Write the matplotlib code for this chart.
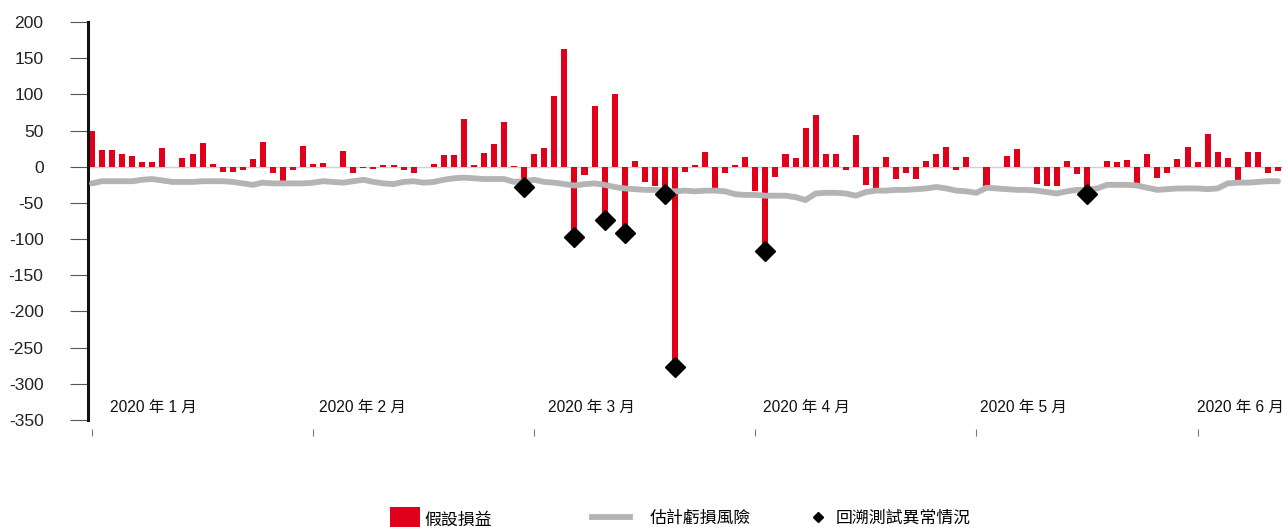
import matplotlib
matplotlib.use("Agg")
import matplotlib.pyplot as plt
from matplotlib.patches import Patch
from matplotlib.lines import Line2D
import numpy as np

plt.rcParams['font.family'] = ['Liberation Sans', 'Noto Sans CJK TC', 'DejaVu Sans']

# daily hypothetical P&L (one value per trading day)
pnl = [50, 23, 23, 17, 15, 7, 7, 26, -1, 12, 17, 33, 4, -7, -7, -4, 11, 34, -9, -20, -4, 28,
       4, 5, 0, 22, -8, -2, -3, 3, 2, -4, -8, -1, 4, 16, 16, 66, 2, 19, 31, 62, 1, -28,
       17, 26, 98, 163, -97, -12, 84, -73, 100, -91, 8, -21, -26, -37, -277, -7, 2, 20, -29, -9, 3, 13,
       -33, -116, -14, 18, 12, 53, 72, 17, 18, -4, 44, -25, -30, 13, -17, -8, -17, 8, 18, 27, -4, 13,
       -1, -27, 0, 15, 25, 0, -24, -27, -27, 8, -10, -37, -1, 8, 6, 9, -24, 17, -16, -8, 11, 27, 6, 45,
       21, 12, -21, 20, 20, -8, -6]

# estimated loss (VaR), drawn as a negative line
var = [-23, -20, -20, -20, -20, -18, -17, -19, -21, -21, -21, -20, -20, -20, -21, -23, -25, -22, -23, -23, -23, -23,
       -22, -20, -21, -22, -20, -18, -21, -23, -24, -21, -20, -22, -21, -18, -16, -15, -16, -17, -17, -17, -21, -20,
       -18, -21, -22, -24, -26, -24, -23, -25, -28, -30, -31, -32, -32, -33, -34, -33, -34, -33, -33, -34, -38, -39,
       -39, -40, -40, -40, -42, -46, -37, -36, -36, -37, -40, -35, -33, -33, -32, -32, -31, -30, -28, -30, -33, -34,
       -36, -29, -30, -31, -32, -32, -33, -35, -37, -34, -32, -32, -30, -25, -25, -25, -26, -29, -32, -31, -30, -30,
       -30, -31, -30, -23, -22, -22, -21, -20, -20]

month_labels = ['2020 年 1 月', '2020 年 2 月', '2020 年 3 月', '2020 年 4 月', '2020 年 5 月', '2020 年 6 月']
month_ticks = [0, 22, 44, 66, 88, 110]
yticks = list(range(-350, 201, 50))

RED = '#E0001B'
GREY = '#B4B4B4'

x = np.arange(len(pnl))
pnl_a = np.array(pnl)
var_a = np.array(var)
exc = pnl_a < var_a  # backtesting exceptions

fig = plt.figure(figsize=(12.83, 5.27), dpi=100)
ax = fig.add_axes([88 / 1283, 1 - 428.7 / 527, 1195 / 1283, (428.7 - 22) / 527])

ax.axhline(0, color='#D0D0D0', lw=1, zorder=1)
ax.bar(x, pnl_a, width=0.6, color=RED, zorder=2)
ax.plot(x, var_a, color=GREY, lw=4.2, zorder=3, solid_capstyle='round')
ax.plot(x[exc], pnl_a[exc], 'D', color='black', markersize=10, zorder=4)

ax.set_xlim(-0.4, len(pnl) - 0.5)
ax.set_ylim(-362, 200)

for s in ['top', 'right', 'bottom']:
    ax.spines[s].set_visible(False)
ax.spines['left'].set_bounds(-350, 200)
ax.spines['left'].set_linewidth(2.2)
ax.spines['left'].set_color('#111111')

ax.set_yticks(yticks)
ax.set_yticklabels([str(v) for v in yticks], fontsize=12.6, color='#222222')
ax.tick_params(axis='y', length=13, width=0.8, color='#555555', pad=19)

ax.set_xticks(month_ticks)
ax.set_xticklabels([])
ax.tick_params(axis='x', length=5, width=0.8, color='#777777', direction='out')

label_pos = [1.8, 22.6, 45.4, 66.8, 88.4, 109.9]
for p, lab in zip(label_pos, month_labels):
    ax.text(p, -332, lab, fontsize=11.2, ha='left', va='center', color='#111111')

# legend, three separate entries
h1 = Patch(facecolor=RED, edgecolor='none')
h2 = Line2D([], [], color=GREY, lw=4.2)
h3 = Line2D([], [], marker='D', color='black', ls='none', markersize=5.5)
common = dict(frameon=False, fontsize=12.2, borderpad=0, borderaxespad=0, loc='center left')
fig.legend([h1], ['假設損益'], bbox_to_anchor=(390 / 1283, 1 - 519 / 527),
           handlelength=1.76, handleheight=1.76, handletextpad=0.3, **common)
fig.legend([h2], ['估計虧損風險'], bbox_to_anchor=(592 / 1283, 1 - 518 / 527),
           handlelength=2.24, handletextpad=1.18, **common)
fig.legend([h3], ['回溯測試異常情況'], bbox_to_anchor=(811 / 1283, 1 - 518 / 527),
           handlelength=0.8, handletextpad=0.66, **common)

fig.savefig('out.png', dpi=100)
